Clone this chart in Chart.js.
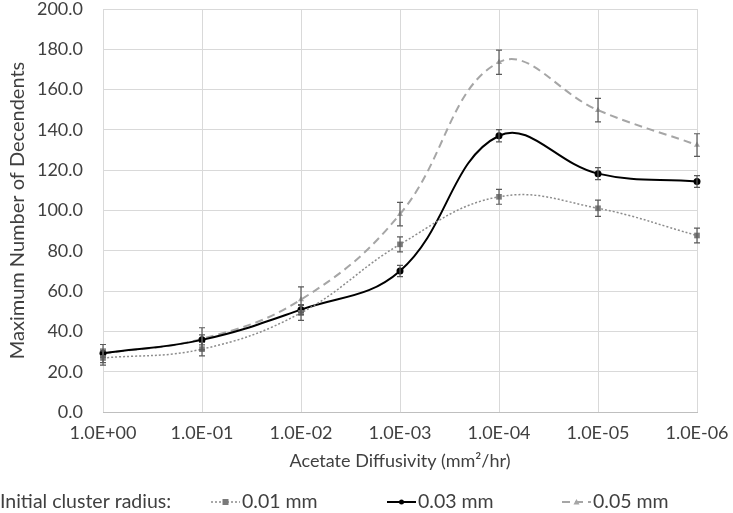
<!DOCTYPE html>
<html>
<head>
<meta charset="utf-8">
<script src="https://cdn.jsdelivr.net/npm/chart.js@4"></script>
<style>
  html, body { margin: 0; padding: 0; background: #fff; }
  #wrap { width: 733px; height: 513px; }
</style>
</head>
<body>
<div id="wrap"><canvas id="grafico" width="733" height="513"></canvas></div>
<script>
// datos
var etiquetas = ['1.0E+00', '1.0E-01', '1.0E-02', '1.0E-03', '1.0E-04', '1.0E-05', '1.0E-06'];
var radio001 = [26.8, 31.2, 49.2, 83.2, 106.8, 101.1, 87.6];
var radio003 = [29.2, 35.8, 50.8, 70.0, 137.1, 118.3, 114.4];
var radio005 = [29.0, 36.3, 55.8, 98.2, 173.6, 149.8, 132.5];
var error001 = [3.5, 3.3, 3.7, 3.7, 3.7, 4.0, 3.7];
var error003 = [2.0, 2.5, 2.5, 2.8, 3.0, 3.0, 2.9];
var error005 = [4.5, 5.5, 6.3, 5.8, 6.0, 5.8, 5.6];
var ticksY = [0, 20, 40, 60, 80, 100, 120, 140, 160, 180, 200];
var errores = [error001, error003, error005];

var fuente = 'Lato, "Open Sans", sans-serif';
var tam = 18;

var barrasError = {
  id: 'barrasError',
  afterDatasetsDraw: function (chart) {
    var ctx = chart.ctx;
    var y = chart.scales.y;
    ctx.save();
    ctx.strokeStyle = '#5a5a5a';
    ctx.lineWidth = 1.2;
    chart.data.datasets.forEach(function (ds, i) {
      var meta = chart.getDatasetMeta(i);
      meta.data.forEach(function (p, j) {
        var v = ds.data[j];
        var e = errores[i][j];
        var y1 = y.getPixelForValue(v + e);
        var y2 = y.getPixelForValue(v - e);
        ctx.beginPath();
        ctx.moveTo(p.x, y1); ctx.lineTo(p.x, y2);
        ctx.moveTo(p.x - 3, y1); ctx.lineTo(p.x + 3, y1);
        ctx.moveTo(p.x - 3, y2); ctx.lineTo(p.x + 3, y2);
        ctx.stroke();
      });
    });
    ctx.restore();
  }
};

var leyenda = {
  id: 'leyenda',
  afterDraw: function (chart) {
    var ctx = chart.ctx;
    var yl = 502;
    ctx.save();
    ctx.font = '19.5px ' + fuente;
    ctx.fillStyle = '#404040';
    ctx.textBaseline = 'middle';
    ctx.fillText('Initial cluster radius:', 0, yl);
    var xs = [211, 387, 562];
    chart.data.datasets.forEach(function (ds, i) {
      var x0 = xs[i];
      ctx.save();
      ctx.strokeStyle = ds.borderColor;
      ctx.lineWidth = ds.borderWidth;
      ctx.setLineDash(ds.borderDash || []);
      ctx.beginPath();
      ctx.moveTo(x0, yl); ctx.lineTo(x0 + 29, yl);
      ctx.stroke();
      ctx.setLineDash([]);
      ctx.fillStyle = ds.pointBackgroundColor;
      ctx.beginPath();
      var cx = x0 + 14.5;
      if (ds.pointStyle === 'rect') {
        ctx.rect(cx - 3, yl - 3, 6, 6);
      } else if (ds.pointStyle === 'triangle') {
        ctx.moveTo(cx, yl - 3); ctx.lineTo(cx + 3, yl + 2.5); ctx.lineTo(cx - 3, yl + 2.5); ctx.closePath();
      } else {
        ctx.arc(cx, yl, 2.5, 0, Math.PI * 2);
      }
      ctx.fill();
      ctx.restore();
      ctx.fillStyle = '#404040';
      ctx.fillText(ds.label, x0 + 31, yl);
    });
    ctx.restore();
  }
};

var ctx = document.getElementById('grafico').getContext('2d');
var miGrafico = new Chart(ctx, {
  type: 'line',
  data: {
    labels: etiquetas,
    datasets: [{
      label: '0.01 mm',
      data: radio001,
      borderColor: '#8c8c8c',
      borderWidth: 1.5,
      borderDash: [2, 2],
      pointStyle: 'rect',
      pointRadius: 4,
      pointBorderWidth: 0,
      pointBackgroundColor: '#7a7a7a',
      pointBorderColor: '#7a7a7a',
      tension: 0.4
    }, {
      label: '0.03 mm',
      data: radio003,
      borderColor: '#000000',
      borderWidth: 2,
      pointStyle: 'circle',
      pointRadius: 3.5,
      pointBorderWidth: 0,
      pointBackgroundColor: '#000000',
      pointBorderColor: '#000000',
      tension: 0.4
    }, {
      label: '0.05 mm',
      data: radio005,
      borderColor: '#a6a6a6',
      borderWidth: 2,
      borderDash: [8, 5],
      pointStyle: 'triangle',
      pointRadius: 3.5,
      pointBorderWidth: 0,
      pointBackgroundColor: '#a6a6a6',
      pointBorderColor: '#a6a6a6',
      tension: 0.4
    }]
  },
  options: {
    responsive: false,
    animation: false,
    layout: { padding: { top: 9, right: 36, left: 0, bottom: 39 } },
    plugins: {
      legend: { display: false },
      tooltip: { enabled: false }
    },
    scales: {
      x: {
        offset: false,
        grid: { color: '#d9d9d9', drawTicks: false },
        border: { color: '#bfbfbf' },
        ticks: { color: '#404040', font: { family: fuente, size: tam }, padding: 10, maxRotation: 0 },
        title: { display: true, text: 'Acetate Diffusivity (mm²/hr)', color: '#404040', font: { family: fuente, size: tam }, padding: { top: 2, bottom: 2 } },
        afterFit: function (s) { s.height = 62; s.paddingLeft = 0; s.paddingRight = 0; }
      },
      y: {
        min: 0,
        max: 200,
        grid: { color: '#d9d9d9', drawTicks: false },
        border: { display: false },
        afterBuildTicks: function (s) { s.ticks = ticksY.map(function (v) { return { value: v }; }); },
        ticks: {
          color: '#404040', font: { family: fuente, size: tam }, padding: 20,
          callback: function (v) { return Number(v).toFixed(1); }
        },
        title: { display: true, text: 'Maximum Number of Decendents', color: '#404040', font: { family: fuente, size: 20 }, padding: { top: 6, bottom: 4 } },
        afterFit: function (s) { s.width = 103; s.paddingTop = 0; s.paddingBottom = 0; }
      }
    }
  },
  plugins: [barrasError, leyenda]
});
</script>
</body>
</html>
